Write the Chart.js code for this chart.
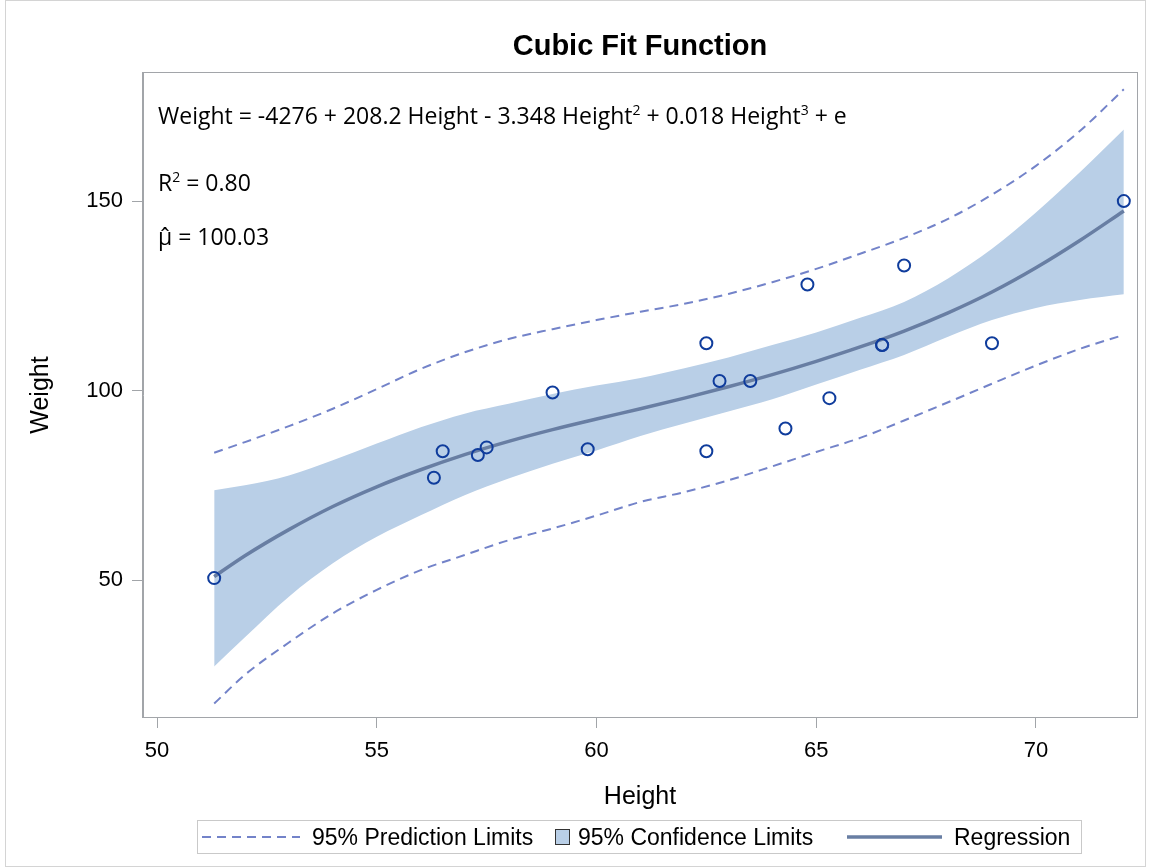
<!DOCTYPE html>
<html><head><meta charset="utf-8">
<script src="https://cdn.jsdelivr.net/npm/chart.js@4.4.1/dist/chart.umd.min.js"></script>
<style>html,body{margin:0;padding:0;background:#fff;}canvas{display:block;}</style>
</head><body>
<canvas id="c" width="1151" height="867"></canvas>
<script>
// ---- data ----
const fitHeights    = [51.3, 52, 53, 54, 55, 56, 57, 58, 59, 60, 61, 62, 63, 64, 65, 66, 67, 68, 69, 70, 71, 72];
const regressionFit = [50.9, 56.4, 63.3, 69.4, 74.6, 79.1, 83.1, 86.6, 89.7, 92.5, 95.2, 98.0, 101.0, 104.2, 107.7, 111.5, 115.7, 120.5, 126.0, 132.4, 139.6, 147.4];
const confUpper     = [73.7, 75.0, 77.6, 81.6, 86.0, 90.3, 93.9, 96.5, 99.1, 101.3, 103.3, 105.9, 108.7, 112.0, 115.3, 119.2, 123.4, 129.6, 137.4, 147.0, 157.6, 168.9];
const confLower     = [27.2, 34.9, 45.6, 54.4, 61.4, 67.1, 72.4, 76.8, 80.7, 84.2, 88.0, 91.3, 94.5, 97.7, 101.6, 105.5, 109.4, 114.2, 118.6, 121.8, 123.9, 125.4];
const predUpper     = [83.6, 86.4, 90.6, 95.2, 100.4, 105.7, 110.1, 113.6, 116.2, 118.6, 120.8, 122.9, 125.5, 128.6, 132.1, 136.1, 140.3, 145.3, 151.7, 159.3, 168.5, 179.5];
const predLower     = [17.4, 25.0, 33.5, 41.2, 47.4, 52.6, 56.6, 60.5, 63.6, 67.0, 70.6, 73.2, 76.3, 80.0, 83.8, 87.5, 92.1, 96.9, 101.8, 106.6, 111.0, 114.7];
const obsHeights    = [69.0, 56.5, 65.3, 62.8, 63.5, 57.3, 59.8, 62.5, 62.5, 59.0, 51.3, 64.3, 56.3, 66.5, 72.0, 64.8, 67.0, 57.5, 66.5];
const obsWeights    = [112.5, 84.0, 98.0, 102.5, 102.5, 83.0, 84.5, 112.5, 84.0, 99.5, 50.5, 90.0, 77.0, 112.0, 150.0, 128.0, 133.0, 85.0, 112.0];
const xTickValues   = [50, 55, 60, 65, 70];
const yTickValues   = [50, 100, 150];
const chartTitle    = 'Cubic Fit Function';
const xAxisTitle    = 'Height';
const yAxisTitle    = 'Weight';
const legendLabels  = ['95% Prediction Limits', '95% Confidence Limits', 'Regression'];
const eqSegments    = [['Weight = -4276 + 208.2 Height - 3.348 Height', false], ['2', true], [' + 0.018 Height', false], ['3', true], [' + e', false]];
const r2Segments    = [['R', false], ['2', true], [' = 0.80', false]];
const muText        = '\u03BC\u0302 = 100.03';

// ---- styles ----
const SANS = "'Liberation Sans', Arial, sans-serif";
const EQF  = "'Open Sans', 'Noto Sans', sans-serif";
const bandColor = '#b9cfe7';
const regColor  = '#687ea3';
const predColor = '#7383c9';
const ptColor   = '#0f3c9c';
const frameColor = '#a2a5a9';

const toXY = (xs, ys) => xs.map((x, i) => ({x: x, y: ys[i]}));

const decorPlugin = {
  id: 'decor',
  afterDraw(chart) {
    const ctx = chart.ctx, a = chart.chartArea;
    ctx.save();
    // outer border
    ctx.strokeStyle = '#d4d4d4'; ctx.lineWidth = 1;
    ctx.strokeRect(5.5, 0.5, 1140, 866);
    // plot frame
    ctx.strokeStyle = frameColor; ctx.lineWidth = 1;
    ctx.strokeRect(Math.round(a.left) - 0.5, Math.round(a.top) - 0.5, Math.round(a.right - a.left) + 1, Math.round(a.bottom - a.top) + 1);
    // title
    ctx.fillStyle = '#000';
    ctx.font = 'bold 29px ' + SANS;
    ctx.textAlign = 'center'; ctx.textBaseline = 'alphabetic';
    ctx.fillText(chartTitle, (a.left + a.right) / 2, 55);
    // inset text
    const drawSegs = (segs, x, y) => {
      ctx.textAlign = 'left';
      for (const [t, sup] of segs) {
        ctx.font = (sup ? '14px ' : '23px ') + EQF;
        ctx.fillText(t, x, sup ? y - 9 : y);
        x += ctx.measureText(t).width;
      }
    };
    drawSegs(eqSegments, 158, 124);
    drawSegs(r2Segments, 158, 191);
    ctx.font = '23px ' + EQF;
    ctx.fillText(muText, 158, 245);
    // legend
    const ly = 837;
    ctx.strokeStyle = '#c9c9c9'; ctx.lineWidth = 1;
    ctx.strokeRect(197.5, 820.5, 884, 33);
    ctx.strokeStyle = predColor; ctx.lineWidth = 2; ctx.setLineDash([9, 6]);
    ctx.beginPath(); ctx.moveTo(202, ly); ctx.lineTo(300, ly); ctx.stroke();
    ctx.setLineDash([]);
    ctx.fillStyle = bandColor; ctx.fillRect(555, 829, 15, 16);
    ctx.strokeStyle = '#333'; ctx.lineWidth = 1; ctx.strokeRect(555.5, 829.5, 14, 15);
    ctx.strokeStyle = regColor; ctx.lineWidth = 3.5;
    ctx.beginPath(); ctx.moveTo(847, ly); ctx.lineTo(942, ly); ctx.stroke();
    ctx.fillStyle = '#000'; ctx.font = '23px ' + SANS; ctx.textBaseline = 'middle'; ctx.textAlign = 'left';
    ctx.fillText(legendLabels[0], 312, ly + 1.5);
    ctx.fillText(legendLabels[1], 578, ly + 1.5);
    ctx.fillText(legendLabels[2], 954, ly + 1.5);
    ctx.restore();
  }
};

const lineDs = (label, ys, extra) => Object.assign({
  type: 'line', label: label, data: toXY(fitHeights, ys), showLine: true,
  pointRadius: 0, pointHoverRadius: 0, borderWidth: 2, fill: false,
  cubicInterpolationMode: 'monotone'
}, extra);

new Chart(document.getElementById('c'), {
  type: 'scatter',
  data: {
    datasets: [
      lineDs('confLower', confLower, {borderWidth: 0, borderColor: 'rgba(0,0,0,0)', order: 5}),
      lineDs('95% Confidence Limits', confUpper, {borderWidth: 0, borderColor: 'rgba(0,0,0,0)', backgroundColor: bandColor, fill: '-1', order: 4}),
      lineDs('95% Prediction Limits', predUpper, {borderColor: predColor, borderDash: [9, 6], order: 3}),
      lineDs('predLower', predLower, {borderColor: predColor, borderDash: [9, 6], order: 3}),
      lineDs('Regression', regressionFit, {borderColor: regColor, borderWidth: 3.5, order: 2}),
      {type: 'scatter', label: 'Observed', data: toXY(obsHeights, obsWeights), pointStyle: 'circle',
       pointRadius: 6, pointBorderWidth: 2, pointBorderColor: ptColor, pointBackgroundColor: 'rgba(0,0,0,0)', order: 1}
    ]
  },
  options: {
    responsive: false, animation: false, devicePixelRatio: 1,
    layout: {padding: {left: 22, top: 73, right: 14, bottom: 51}},
    plugins: {legend: {display: false}, title: {display: false}, tooltip: {enabled: false}},
    scales: {
      x: {
        type: 'linear', min: 49.68, max: 72.3,
        afterBuildTicks: s => { s.ticks = xTickValues.map(v => ({value: v})); },
        afterFit: s => { s.height = 99; },
        ticks: {font: {size: 22, family: SANS}, color: '#000', padding: 10, includeBounds: false},
        grid: {drawOnChartArea: false, drawTicks: true, tickLength: 11, color: frameColor},
        border: {display: true, color: frameColor},
        title: {display: true, text: xAxisTitle, font: {size: 25, family: SANS}, color: '#000', padding: {top: 4, bottom: 4}}
      },
      y: {
        type: 'linear', min: 13.85, max: 183.8,
        afterBuildTicks: s => { s.ticks = yTickValues.map(v => ({value: v})); },
        afterFit: s => { s.width = 121; },
        ticks: {font: {size: 22, family: SANS}, color: '#000', padding: 9, includeBounds: false},
        grid: {drawOnChartArea: false, drawTicks: true, tickLength: 11, color: frameColor},
        border: {display: true, color: frameColor},
        title: {display: true, text: yAxisTitle, font: {size: 25, family: SANS}, color: '#000', padding: {top: 4, bottom: 4}}
      }
    }
  },
  plugins: [decorPlugin]
});
</script>
</body></html>
